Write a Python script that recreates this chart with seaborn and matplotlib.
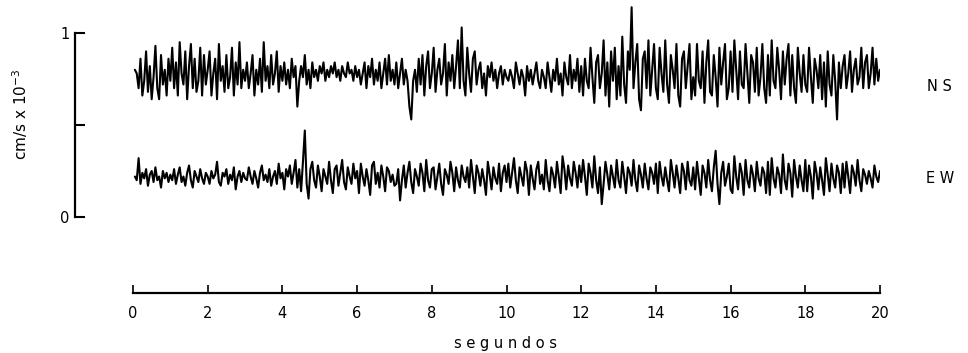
import numpy as np
import matplotlib
matplotlib.use("Agg")
import matplotlib.pyplot as plt
import seaborn as sns

dt = 0.05
ns = [0.80, 0.78, 0.70, 0.86, 0.66, 0.74, 0.90, 0.68, 0.82, 0.64, 0.76, 0.93, 0.70, 0.64, 0.88, 0.72, 0.80, 0.66, 0.86, 0.74,
      0.92, 0.70, 0.84, 0.66, 0.95, 0.78, 0.72, 0.90, 0.64, 0.82, 0.94, 0.70, 0.86, 0.68, 0.74, 0.92, 0.66, 0.88, 0.72, 0.80,
      0.90, 0.66, 0.78, 0.86, 0.64, 0.94, 0.74, 0.82, 0.68, 0.88, 0.70, 0.76, 0.92, 0.66, 0.84, 0.72, 0.95, 0.70, 0.80, 0.74,
      0.84, 0.70, 0.78, 0.88, 0.66, 0.80, 0.72, 0.86, 0.68, 0.95, 0.74, 0.82, 0.70, 0.88, 0.72, 0.78, 0.90, 0.68, 0.82, 0.74,
      0.84, 0.72, 0.80, 0.70, 0.86, 0.76, 0.82, 0.60, 0.74, 0.82, 0.76, 0.88, 0.72, 0.80, 0.70, 0.84, 0.76, 0.80, 0.74, 0.82,
      0.78, 0.84, 0.74, 0.80, 0.76, 0.82, 0.78, 0.84, 0.76, 0.80, 0.74, 0.82, 0.78, 0.76, 0.84, 0.78, 0.80, 0.74, 0.82, 0.76,
      0.80, 0.72, 0.78, 0.84, 0.70, 0.82, 0.76, 0.86, 0.72, 0.80, 0.74, 0.84, 0.70, 0.78, 0.86, 0.72, 0.88, 0.74, 0.80, 0.72,
      0.84, 0.70, 0.78, 0.86, 0.72, 0.80, 0.74, 0.60, 0.53, 0.74, 0.80, 0.68, 0.86, 0.72, 0.88, 0.66, 0.82, 0.90, 0.70, 0.78,
      0.92, 0.68, 0.80, 0.86, 0.72, 0.78, 0.94, 0.66, 0.84, 0.74, 0.88, 0.70, 0.82, 0.96, 0.70, 1.03, 0.74, 0.66, 0.92, 0.78,
      0.68, 0.86, 0.90, 0.72, 0.80, 0.84, 0.70, 0.78, 0.66, 0.82, 0.76, 0.84, 0.74, 0.80, 0.70, 0.78, 0.82, 0.72, 0.80, 0.76,
      0.74, 0.80, 0.76, 0.70, 0.84, 0.78, 0.72, 0.80, 0.76, 0.66, 0.82, 0.74, 0.80, 0.72, 0.78, 0.84, 0.74, 0.70, 0.80, 0.76,
      0.70, 0.84, 0.76, 0.68, 0.80, 0.74, 0.86, 0.72, 0.78, 0.66, 0.84, 0.76, 0.72, 0.88, 0.70, 0.80, 0.74, 0.86, 0.68, 0.82,
      0.66, 0.86, 0.74, 0.70, 0.92, 0.76, 0.62, 0.84, 0.88, 0.70, 0.78, 0.96, 0.66, 0.84, 0.60, 0.90, 0.74, 0.92, 0.64, 0.82,
      0.66, 0.98, 0.72, 0.62, 0.90, 0.80, 1.14, 0.70, 0.84, 0.94, 0.64, 0.58, 0.86, 0.90, 0.70, 0.96, 0.66, 0.80, 0.94, 0.70,
      0.64, 0.92, 0.78, 0.68, 0.96, 0.72, 0.62, 0.88, 0.80, 0.70, 0.94, 0.66, 0.60, 0.86, 0.90, 0.70, 0.82, 0.94, 0.64, 0.76,
      0.66, 0.94, 0.74, 0.70, 0.90, 0.62, 0.84, 0.96, 0.68, 0.66, 0.88, 0.76, 0.60, 0.92, 0.72, 0.84, 0.94, 0.64, 0.70, 0.90,
      0.68, 0.96, 0.80, 0.64, 0.90, 0.72, 0.70, 0.94, 0.78, 0.62, 0.88, 0.84, 0.68, 0.92, 0.66, 0.76, 0.94, 0.70, 0.62, 0.88,
      0.66, 0.96, 0.74, 0.70, 0.92, 0.80, 0.64, 0.90, 0.72, 0.86, 0.94, 0.66, 0.88, 0.70, 0.62, 0.92, 0.78, 0.68, 0.88, 0.72,
      0.68, 0.92, 0.76, 0.62, 0.86, 0.80, 0.70, 0.88, 0.64, 0.84, 0.60, 0.90, 0.72, 0.66, 0.88, 0.74, 0.53, 0.84, 0.70, 0.82,
      0.88, 0.70, 0.78, 0.90, 0.68, 0.80, 0.86, 0.72, 0.76, 0.92, 0.70, 0.84, 0.88, 0.70, 0.78, 0.92, 0.72, 0.86, 0.74, 0.80]

ew = [0.22, 0.20, 0.32, 0.18, 0.24, 0.21, 0.26, 0.17, 0.23, 0.25, 0.19, 0.27, 0.20, 0.22, 0.16, 0.25, 0.21, 0.24, 0.19, 0.23,
      0.20, 0.26, 0.18, 0.23, 0.27, 0.19, 0.22, 0.17, 0.24, 0.28, 0.20, 0.16, 0.25, 0.22, 0.19, 0.26, 0.21, 0.18, 0.24, 0.22,
      0.18, 0.25, 0.21, 0.23, 0.30, 0.19, 0.17, 0.24, 0.22, 0.26, 0.18, 0.23, 0.20, 0.27, 0.15, 0.22, 0.25, 0.19, 0.24, 0.21,
      0.20, 0.27, 0.22, 0.18, 0.25, 0.21, 0.16, 0.24, 0.28, 0.20, 0.23, 0.19, 0.26, 0.17, 0.22, 0.25, 0.18, 0.29, 0.21, 0.24,
      0.15, 0.26, 0.22, 0.28, 0.18, 0.24, 0.31, 0.16, 0.26, 0.14, 0.30, 0.47, 0.18, 0.10, 0.26, 0.30, 0.20, 0.16, 0.28, 0.22,
      0.14, 0.26, 0.22, 0.18, 0.30, 0.20, 0.13, 0.26, 0.28, 0.17, 0.24, 0.31, 0.19, 0.15, 0.27, 0.22, 0.18, 0.29, 0.21, 0.25,
      0.13, 0.29, 0.22, 0.17, 0.26, 0.20, 0.12, 0.28, 0.30, 0.18, 0.24, 0.16, 0.28, 0.22, 0.14, 0.27, 0.25, 0.19, 0.23, 0.17,
      0.18, 0.26, 0.09, 0.20, 0.28, 0.16, 0.24, 0.30, 0.19, 0.13, 0.26, 0.22, 0.17, 0.29, 0.24, 0.14, 0.31, 0.20, 0.16, 0.26,
      0.27, 0.15, 0.22, 0.29, 0.18, 0.12, 0.26, 0.23, 0.18, 0.30, 0.24, 0.14, 0.27, 0.20, 0.16, 0.28, 0.22, 0.19, 0.27, 0.16,
      0.31, 0.22, 0.13, 0.28, 0.24, 0.17, 0.26, 0.20, 0.12, 0.30, 0.23, 0.15, 0.27, 0.21, 0.18, 0.29, 0.14, 0.24, 0.28, 0.19,
      0.29, 0.16, 0.24, 0.32, 0.20, 0.13, 0.27, 0.22, 0.17, 0.30, 0.25, 0.12, 0.28, 0.21, 0.15, 0.26, 0.30, 0.18, 0.23, 0.15,
      0.31, 0.20, 0.14, 0.27, 0.23, 0.16, 0.30, 0.22, 0.13, 0.33, 0.26, 0.15, 0.28, 0.21, 0.17, 0.30, 0.24, 0.16, 0.28, 0.19,
      0.31, 0.22, 0.12, 0.29, 0.24, 0.16, 0.33, 0.20, 0.13, 0.27, 0.07, 0.18, 0.30, 0.23, 0.15, 0.28, 0.22, 0.16, 0.31, 0.20,
      0.16, 0.30, 0.22, 0.13, 0.27, 0.24, 0.17, 0.31, 0.20, 0.14, 0.28, 0.23, 0.16, 0.29, 0.21, 0.15, 0.27, 0.24, 0.18, 0.29,
      0.13, 0.30, 0.22, 0.17, 0.27, 0.20, 0.14, 0.31, 0.24, 0.16, 0.28, 0.21, 0.13, 0.29, 0.25, 0.15, 0.30, 0.20, 0.17, 0.27,
      0.15, 0.30, 0.21, 0.12, 0.28, 0.24, 0.16, 0.31, 0.20, 0.14, 0.27, 0.36, 0.18, 0.07, 0.24, 0.30, 0.17, 0.22, 0.29, 0.15,
      0.13, 0.33, 0.22, 0.15, 0.29, 0.24, 0.12, 0.31, 0.20, 0.16, 0.28, 0.23, 0.14, 0.30, 0.21, 0.17, 0.27, 0.24, 0.13, 0.30,
      0.12, 0.32, 0.21, 0.16, 0.27, 0.23, 0.13, 0.34, 0.20, 0.15, 0.29, 0.24, 0.11, 0.31, 0.22, 0.16, 0.28, 0.20, 0.14, 0.31,
      0.14, 0.28, 0.22, 0.10, 0.30, 0.24, 0.15, 0.27, 0.20, 0.12, 0.32, 0.23, 0.14, 0.29, 0.21, 0.16, 0.28, 0.24, 0.13, 0.29,
      0.16, 0.30, 0.22, 0.13, 0.28, 0.24, 0.17, 0.31, 0.20, 0.14, 0.26, 0.23, 0.18, 0.25, 0.21, 0.16, 0.28, 0.22, 0.19, 0.25]

xticks = [0, 2, 4, 6, 8, 10, 12, 14, 16, 18, 20]
yticks = [0, 0.5, 1]
ytick_labels = ["0", "", "1"]
componentes = ["NS", "EW"]
pos_etiqueta = [0.71, 0.21]

sns.set_style("ticks")
plt.rcParams['font.family'] = ['DejaVu Sans']

fig = plt.figure(figsize=(9.68, 3.53), dpi=100)
ax = fig.add_axes([75 / 968, 60 / 353, 805 / 968, 288 / 353])

for serie in [ns, ew]:
    t = np.arange(1, len(serie) + 1) * dt
    sns.lineplot(x=t, y=serie, ax=ax, color="black", linewidth=1.5)

ax.set_xlim(-1.553, 20.0)
ax.set_ylim(-0.413, 1.152)

# ejes como en el original: eje y 0-1, eje x 0-20 separado abajo
ax.spines["top"].set_visible(False)
ax.spines["right"].set_visible(False)
ax.spines["left"].set_bounds(0, 1)
ax.spines["bottom"].set_bounds(0, 20)
for s in ["left", "bottom"]:
    ax.spines[s].set_linewidth(1.6)
    ax.spines[s].set_color("black")

ax.set_yticks(yticks)
ax.set_yticklabels(ytick_labels)
ax.set_xticks(xticks)
ax.tick_params(axis="y", direction="in", length=7, width=1.5, pad=4, labelsize=10.5,
               colors="black")
ax.tick_params(axis="x", direction="in", length=6, width=1.2, pad=9, labelsize=10.5,
               colors="black")

ax.set_ylabel("cm/s x 10$^{-3}$", fontsize=11, color="black")
ax.yaxis.set_label_coords(-0.056, 0.62)
ax.set_xlabel("s e g u n d o s", fontsize=10.5, color="black")
ax.xaxis.set_label_coords(0.535, -0.15)

for nombre, yv in zip(componentes, pos_etiqueta):
    ax.text(21.6, yv, " ".join(nombre), fontsize=10.5, ha="center", va="center",
            clip_on=False, color="black")

fig.savefig("out.png", dpi=100)
